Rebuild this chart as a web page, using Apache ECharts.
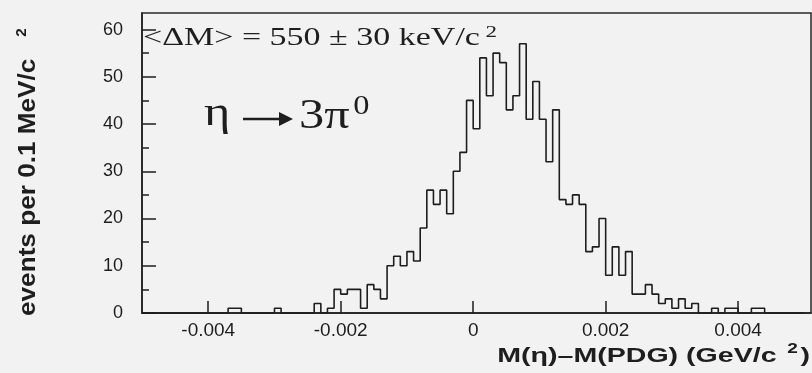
<!DOCTYPE html>
<html>
<head>
<meta charset="utf-8">
<script src="https://cdn.jsdelivr.net/npm/echarts@6/dist/echarts.min.js"></script>
<style>
  html, body { margin: 0; padding: 0; background: #f2f2f2; }
  #chart { width: 812px; height: 373px; }
</style>
</head>
<body>
<div id="chart"></div>
<script>
// binning of the histogram, GeV/c^2
var binStart = -0.005
var binWidth = 0.0001
// events per 0.1 MeV bin (100 bins from -0.005 to 0.005)
var counts = [
  0, 0, 0, 0, 0, 0, 0, 0, 0, 0,
  0, 0, 0, 1, 1, 0, 0, 0, 0, 0,
  1, 0, 0, 0, 0, 0, 2, 0, 1, 5,
  4, 5, 5, 1, 6, 5, 3, 10, 12, 10,
  13, 11, 18, 26, 23, 26, 21, 30, 34, 45,
  39, 54, 46, 55, 53, 43, 46, 57, 41, 49,
  41, 32, 43, 24, 23, 25, 23, 13, 14, 20,
  8, 14, 8, 13, 4, 4, 6, 4, 2, 3,
  1, 3, 1, 2, 0, 0, 1, 0, 1, 1,
  0, 0, 1, 1, 0, 0, 0, 0, 0, 0
]
var xTicks = [-0.004, -0.002, 0, 0.002, 0.004]
var yMajor = [0, 10, 20, 30, 40, 50, 60]
var yMinor = [5, 15, 25, 35, 45, 55]

var points = counts.map(function (c, i) {
  return [binStart + i * binWidth, c]
})
points.push([binStart + counts.length * binWidth, counts[counts.length - 1]])

var ink = '#1e1e1e'
var myChart = echarts.init(document.getElementById('chart'))
var option = {
  backgroundColor: '#f2f2f2',
  animation: false,
  grid: {
    left: 142,
    right: 1,
    top: 13,
    bottom: 60,
    show: true,
    borderColor: '#2a2a2a',
    borderWidth: 1.5
  },
  xAxis: {
    type: 'value',
    min: -0.005,
    max: 0.0051,
    splitLine: { show: false },
    axisLine: { show: true, onZero: false, lineStyle: { color: ink, width: 1.5 } },
    axisTick: {
      show: true,
      inside: true,
      length: 12,
      customValues: xTicks,
      lineStyle: { color: ink, width: 1.5 }
    },
    axisLabel: {
      customValues: xTicks,
      color: ink,
      fontFamily: 'Liberation Sans',
      fontSize: 19,
      margin: 8,
      formatter: function (v) {
        return v === 0 ? '0' : v.toFixed(3)
      }
    }
  },
  yAxis: [
    {
      type: 'value',
      min: 0,
      max: 63.5,
      splitLine: { show: false },
      axisLine: { show: true, onZero: false, lineStyle: { color: ink, width: 1.5 } },
      axisTick: {
        show: true,
        inside: true,
        length: 14,
        customValues: yMajor,
        lineStyle: { color: ink, width: 1.5 }
      },
      axisLabel: {
        customValues: yMajor,
        color: ink,
        fontFamily: 'Liberation Sans',
        fontSize: 18,
        margin: 19
      }
    },
    {
      type: 'value',
      position: 'left',
      min: 0,
      max: 63.5,
      splitLine: { show: false },
      axisLine: { show: false, onZero: false },
      axisLabel: { show: false },
      axisTick: {
        show: true,
        inside: true,
        length: 7,
        customValues: yMinor,
        lineStyle: { color: ink, width: 1.5 }
      }
    }
  ],
  graphic: [
    {
      // y axis title, reads bottom to top
      type: 'text',
      x: 41,
      y: 316,
      rotation: Math.PI / 2,
      scaleX: 1.09,
      style: {
        text: '{t|events per 0.1 MeV/c}{s|2}',
        textAlign: 'left',
        textVerticalAlign: 'bottom',
        rich: {
          t: { fontFamily: 'Liberation Sans', fontWeight: 'bold', fontSize: 24, fill: ink },
          s: { fontFamily: 'Liberation Sans', fontWeight: 'bold', fontSize: 14, fill: ink, padding: [0, 0, 12, 20] }
        }
      }
    },
    {
      type: 'text',
      x: 143,
      y: 24,
      scaleX: 1.36,
      style: {
        text: '{a|<ΔM> = 550 ± 30 keV/c}{s|2}',
        textAlign: 'left',
        textVerticalAlign: 'top',
        rich: {
          a: { fontFamily: 'Liberation Serif', fontSize: 25, fill: ink },
          s: { fontFamily: 'Liberation Serif', fontSize: 17, fill: ink, padding: [0, 0, 12, 4] }
        }
      }
    },
    {
      type: 'text',
      x: 204,
      y: 93,
      scaleX: 1.2,
      style: {
        text: '{a|η}',
        textAlign: 'left',
        textVerticalAlign: 'top',
        rich: { a: { fontFamily: 'Liberation Serif', fontSize: 42, fill: ink } }
      }
    },
    {
      type: 'line',
      shape: { x1: 243, y1: 119, x2: 282, y2: 119 },
      style: { stroke: ink, lineWidth: 2.5 }
    },
    {
      type: 'polygon',
      shape: { points: [[279, 112], [293, 119], [279, 126]] },
      style: { fill: ink }
    },
    {
      type: 'text',
      x: 299,
      y: 93,
      scaleX: 1.2,
      style: {
        text: '{a|3π}{s|0}',
        textAlign: 'left',
        textVerticalAlign: 'top',
        rich: {
          a: { fontFamily: 'Liberation Serif', fontSize: 42, fill: ink },
          s: { fontFamily: 'Liberation Serif', fontSize: 27, fill: ink, padding: [0, 0, 20, 3] }
        }
      }
    },
    {
      type: 'text',
      x: 810,
      y: 342,
      scaleX: 1.36,
      style: {
        text: '{a|M(η)–M(PDG) (GeV/c }{s|2}{a|)}',
        textAlign: 'right',
        textVerticalAlign: 'top',
        rich: {
          a: { fontFamily: 'Liberation Sans', fontWeight: 'bold', fontSize: 21, fill: ink },
          s: { fontFamily: 'Liberation Sans', fontWeight: 'bold', fontSize: 14, fill: ink, padding: [0, 2, 14, 2] }
        }
      }
    }
  ],
  series: [
    {
      type: 'line',
      step: 'end',
      symbol: 'none',
      xAxisIndex: 0,
      yAxisIndex: 0,
      lineStyle: { color: ink, width: 1.6 },
      data: points
    }
  ]
}
myChart.setOption(option)
</script>
</body>
</html>
